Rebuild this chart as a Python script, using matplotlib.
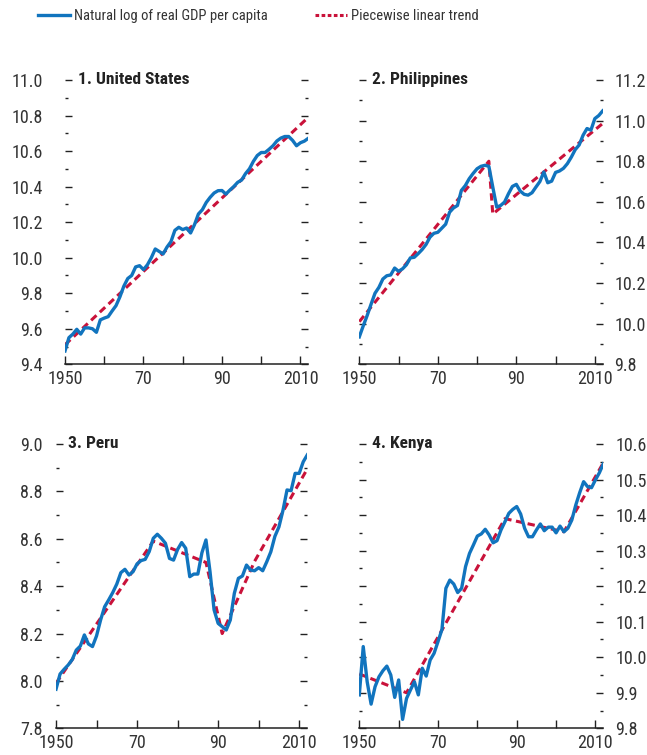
import numpy as np
import matplotlib
matplotlib.use('Agg')
import matplotlib.pyplot as plt
from matplotlib import font_manager
from matplotlib.lines import Line2D
from matplotlib.ticker import MultipleLocator, FormatStrFormatter

# pick a condensed face if one is around, otherwise a plain sans at a smaller size
fonts = font_manager.fontManager.ttflist
names = {f.name for f in fonts}
font_scale = 1.0
if 'Liberation Sans Narrow' in names:
    plt.rcParams['font.family'] = ['Liberation Sans Narrow', 'DejaVu Sans']
elif 'Roboto Condensed' in names:
    plt.rcParams['font.family'] = ['Roboto Condensed', 'DejaVu Sans']
elif any(f.name == 'DejaVu Sans' and f.stretch == 'condensed' for f in fonts):
    plt.rcParams['font.family'] = ['DejaVu Sans']
    plt.rcParams['font.stretch'] = 'condensed'
    font_scale = 0.92
else:
    plt.rcParams['font.family'] = ['Liberation Sans', 'DejaVu Sans']
    font_scale = 0.86

years = np.arange(1950, 2013)

# natural log of real GDP per capita, 1950-2012
usa = [9.475, 9.55, 9.57, 9.597, 9.57, 9.605, 9.605, 9.60, 9.58, 9.65,
       9.66, 9.668, 9.70, 9.73, 9.78, 9.84, 9.883, 9.90, 9.948, 9.955,
       9.933, 9.96, 10.00, 10.049, 10.035, 10.021, 10.06, 10.09, 10.154, 10.171,
       10.158, 10.167, 10.139, 10.186, 10.246, 10.27, 10.311, 10.34, 10.364, 10.377,
       10.378, 10.358, 10.38, 10.40, 10.424, 10.437, 10.473, 10.50, 10.542, 10.575,
       10.592, 10.592, 10.61, 10.63, 10.657, 10.673, 10.682, 10.682, 10.66, 10.63,
       10.647, 10.656, 10.672]
phl = [9.935, 9.989, 10.04, 10.096, 10.15, 10.179, 10.22, 10.236, 10.24, 10.274,
       10.258, 10.27, 10.29, 10.324, 10.327, 10.345, 10.365, 10.39, 10.426, 10.445,
       10.45, 10.47, 10.49, 10.549, 10.57, 10.582, 10.656, 10.68, 10.714, 10.74,
       10.763, 10.775, 10.78, 10.775, 10.673, 10.574, 10.582, 10.599, 10.64, 10.676,
       10.686, 10.653, 10.637, 10.633, 10.645, 10.673, 10.70, 10.747, 10.694, 10.702,
       10.745, 10.752, 10.765, 10.788, 10.82, 10.857, 10.88, 10.928, 10.961, 10.953,
       11.01, 11.025, 11.048]
per = [7.965, 8.029, 8.049, 8.067, 8.09, 8.13, 8.147, 8.194, 8.156, 8.145,
       8.19, 8.257, 8.313, 8.342, 8.373, 8.409, 8.457, 8.471, 8.447, 8.461,
       8.494, 8.508, 8.513, 8.546, 8.602, 8.619, 8.602, 8.581, 8.517, 8.51,
       8.555, 8.584, 8.56, 8.44, 8.451, 8.451, 8.541, 8.595, 8.461, 8.30,
       8.243, 8.229, 8.215, 8.257, 8.37, 8.433, 8.443, 8.489, 8.468, 8.465,
       8.478, 8.465, 8.503, 8.545, 8.61, 8.65, 8.72, 8.806, 8.803, 8.876,
       8.876, 8.925, 8.954]
ken = [9.894, 10.03, 9.931, 9.868, 9.917, 9.945, 9.962, 9.975, 9.95, 9.887,
       9.936, 9.825, 9.884, 9.908, 9.931, 9.894, 9.969, 9.947, 9.992, 10.011,
       10.044, 10.078, 10.194, 10.217, 10.206, 10.182, 10.194, 10.255, 10.292, 10.316,
       10.341, 10.347, 10.36, 10.344, 10.322, 10.328, 10.358, 10.381, 10.405, 10.416,
       10.424, 10.403, 10.363, 10.339, 10.339, 10.358, 10.375, 10.356, 10.366, 10.366,
       10.35, 10.369, 10.353, 10.363, 10.386, 10.428, 10.463, 10.494, 10.48, 10.477,
       10.499, 10.519, 10.544]

# piecewise linear trends (break years and trend levels)
usa_trend_years = [1950, 2012]
usa_trend = [9.51, 10.79]
phl_trend_years = [1950, 1983, 1984, 2012]
phl_trend = [10.01, 10.80, 10.54, 10.986]
per_trend_years = [1950, 1974, 1987, 1991, 1999, 2012]
per_trend = [7.99, 8.59, 8.50, 8.20, 8.505, 8.895]
ken_trend_years = [1950, 1962, 1987, 2002, 2012]
ken_trend = [9.953, 9.90, 10.39, 10.353, 10.547]

titles = ['1. United States', '2. Philippines', '3. Peru', '4. Kenya']
legend_labels = ['Natural log of real GDP per capita', 'Piecewise linear trend']
xtick_labels = ['1950', '', '70', '', '90', '', '2010']

BLUE = '#1174BE'
RED = '#C9123A'
TXT = '#333333'
W, H = 647, 755
FS = 13 * font_scale


def px_axes(fig, left, right, top, bottom):
    return fig.add_axes([left / W, 1 - bottom / H, (right - left) / W, (bottom - top) / H])


def draw_panel(ax, values, t_years, t_vals, title, ylim, major, minor, side, ypad):
    ax.plot(years, values, color=BLUE, lw=2.4, solid_joinstyle='round', zorder=3)
    ax.plot(t_years, t_vals, color=RED, lw=2.2, linestyle=(0, (2.4, 1.5)), zorder=2)
    ax.set_xlim(1950, 2012)
    ax.set_ylim(*ylim)
    for s in ['top', 'left', 'right']:
        ax.spines[s].set_visible(False)
    ax.spines['bottom'].set_color('#222222')
    ax.spines['bottom'].set_linewidth(1.1)
    ax.set_xticks(np.arange(1950, 2011, 10))
    ax.set_xticklabels(xtick_labels)
    ax.tick_params(axis='x', direction='in', length=6, width=1.0, color='#222222',
                   labelsize=FS, labelcolor=TXT, pad=4)
    ax.yaxis.set_major_locator(MultipleLocator(major))
    ax.yaxis.set_minor_locator(MultipleLocator(minor))
    ax.yaxis.set_major_formatter(FormatStrFormatter('%.1f'))
    ax.tick_params(axis='y', which='both', direction='in', left=True, right=True,
                   labelleft=(side == 'left'), labelright=(side == 'right'),
                   color='#222222', labelsize=FS, labelcolor=TXT, pad=ypad)
    ax.tick_params(axis='y', which='major', length=5, width=1.0)
    ax.tick_params(axis='y', which='minor', length=2, width=1.0)
    ax.annotate(title, xy=(0, 1), xycoords='axes fraction', xytext=(9, 0),
                textcoords='offset points', ha='left', va='center',
                fontsize=12.5 * font_scale, fontweight='bold', color='#222222')


fig = plt.figure(figsize=(W / 100, H / 100), dpi=100)

ax1 = px_axes(fig, 65, 308.3, 80, 364.3)
ax2 = px_axes(fig, 359.3, 602.7, 80, 364.3)
ax3 = px_axes(fig, 56, 307.3, 444, 728.3)
ax4 = px_axes(fig, 359.3, 603.3, 444, 728.3)

draw_panel(ax1, usa, usa_trend_years, usa_trend, titles[0], (9.4, 11.0), 0.2, 0.1, 'left', 16)
draw_panel(ax2, phl, phl_trend_years, phl_trend, titles[1], (9.8, 11.2), 0.2, 0.1, 'right', 8.5)
draw_panel(ax3, per, per_trend_years, per_trend, titles[2], (7.8, 9.0), 0.2, 0.1, 'left', 9.5)
draw_panel(ax4, ken, ken_trend_years, ken_trend, titles[3], (9.8, 10.6), 0.1, 0.05, 'right', 8.5)

# legend entries placed one by one along the top
handles = [Line2D([], [], color=BLUE, lw=2.4),
           Line2D([], [], color=RED, lw=2.2, linestyle=(0, (1.2, 0.8)))]
for h, lab, x0 in zip(handles, legend_labels, [38, 315]):
    fig.legend([h], [lab], loc='center left', bbox_to_anchor=(x0 / W, 1 - 16 / H),
               frameon=False, fontsize=10.5 * font_scale, handlelength=2.2,
               handletextpad=0.3, borderpad=0, borderaxespad=0, labelcolor=TXT)

fig.savefig('out.png', dpi=100)
